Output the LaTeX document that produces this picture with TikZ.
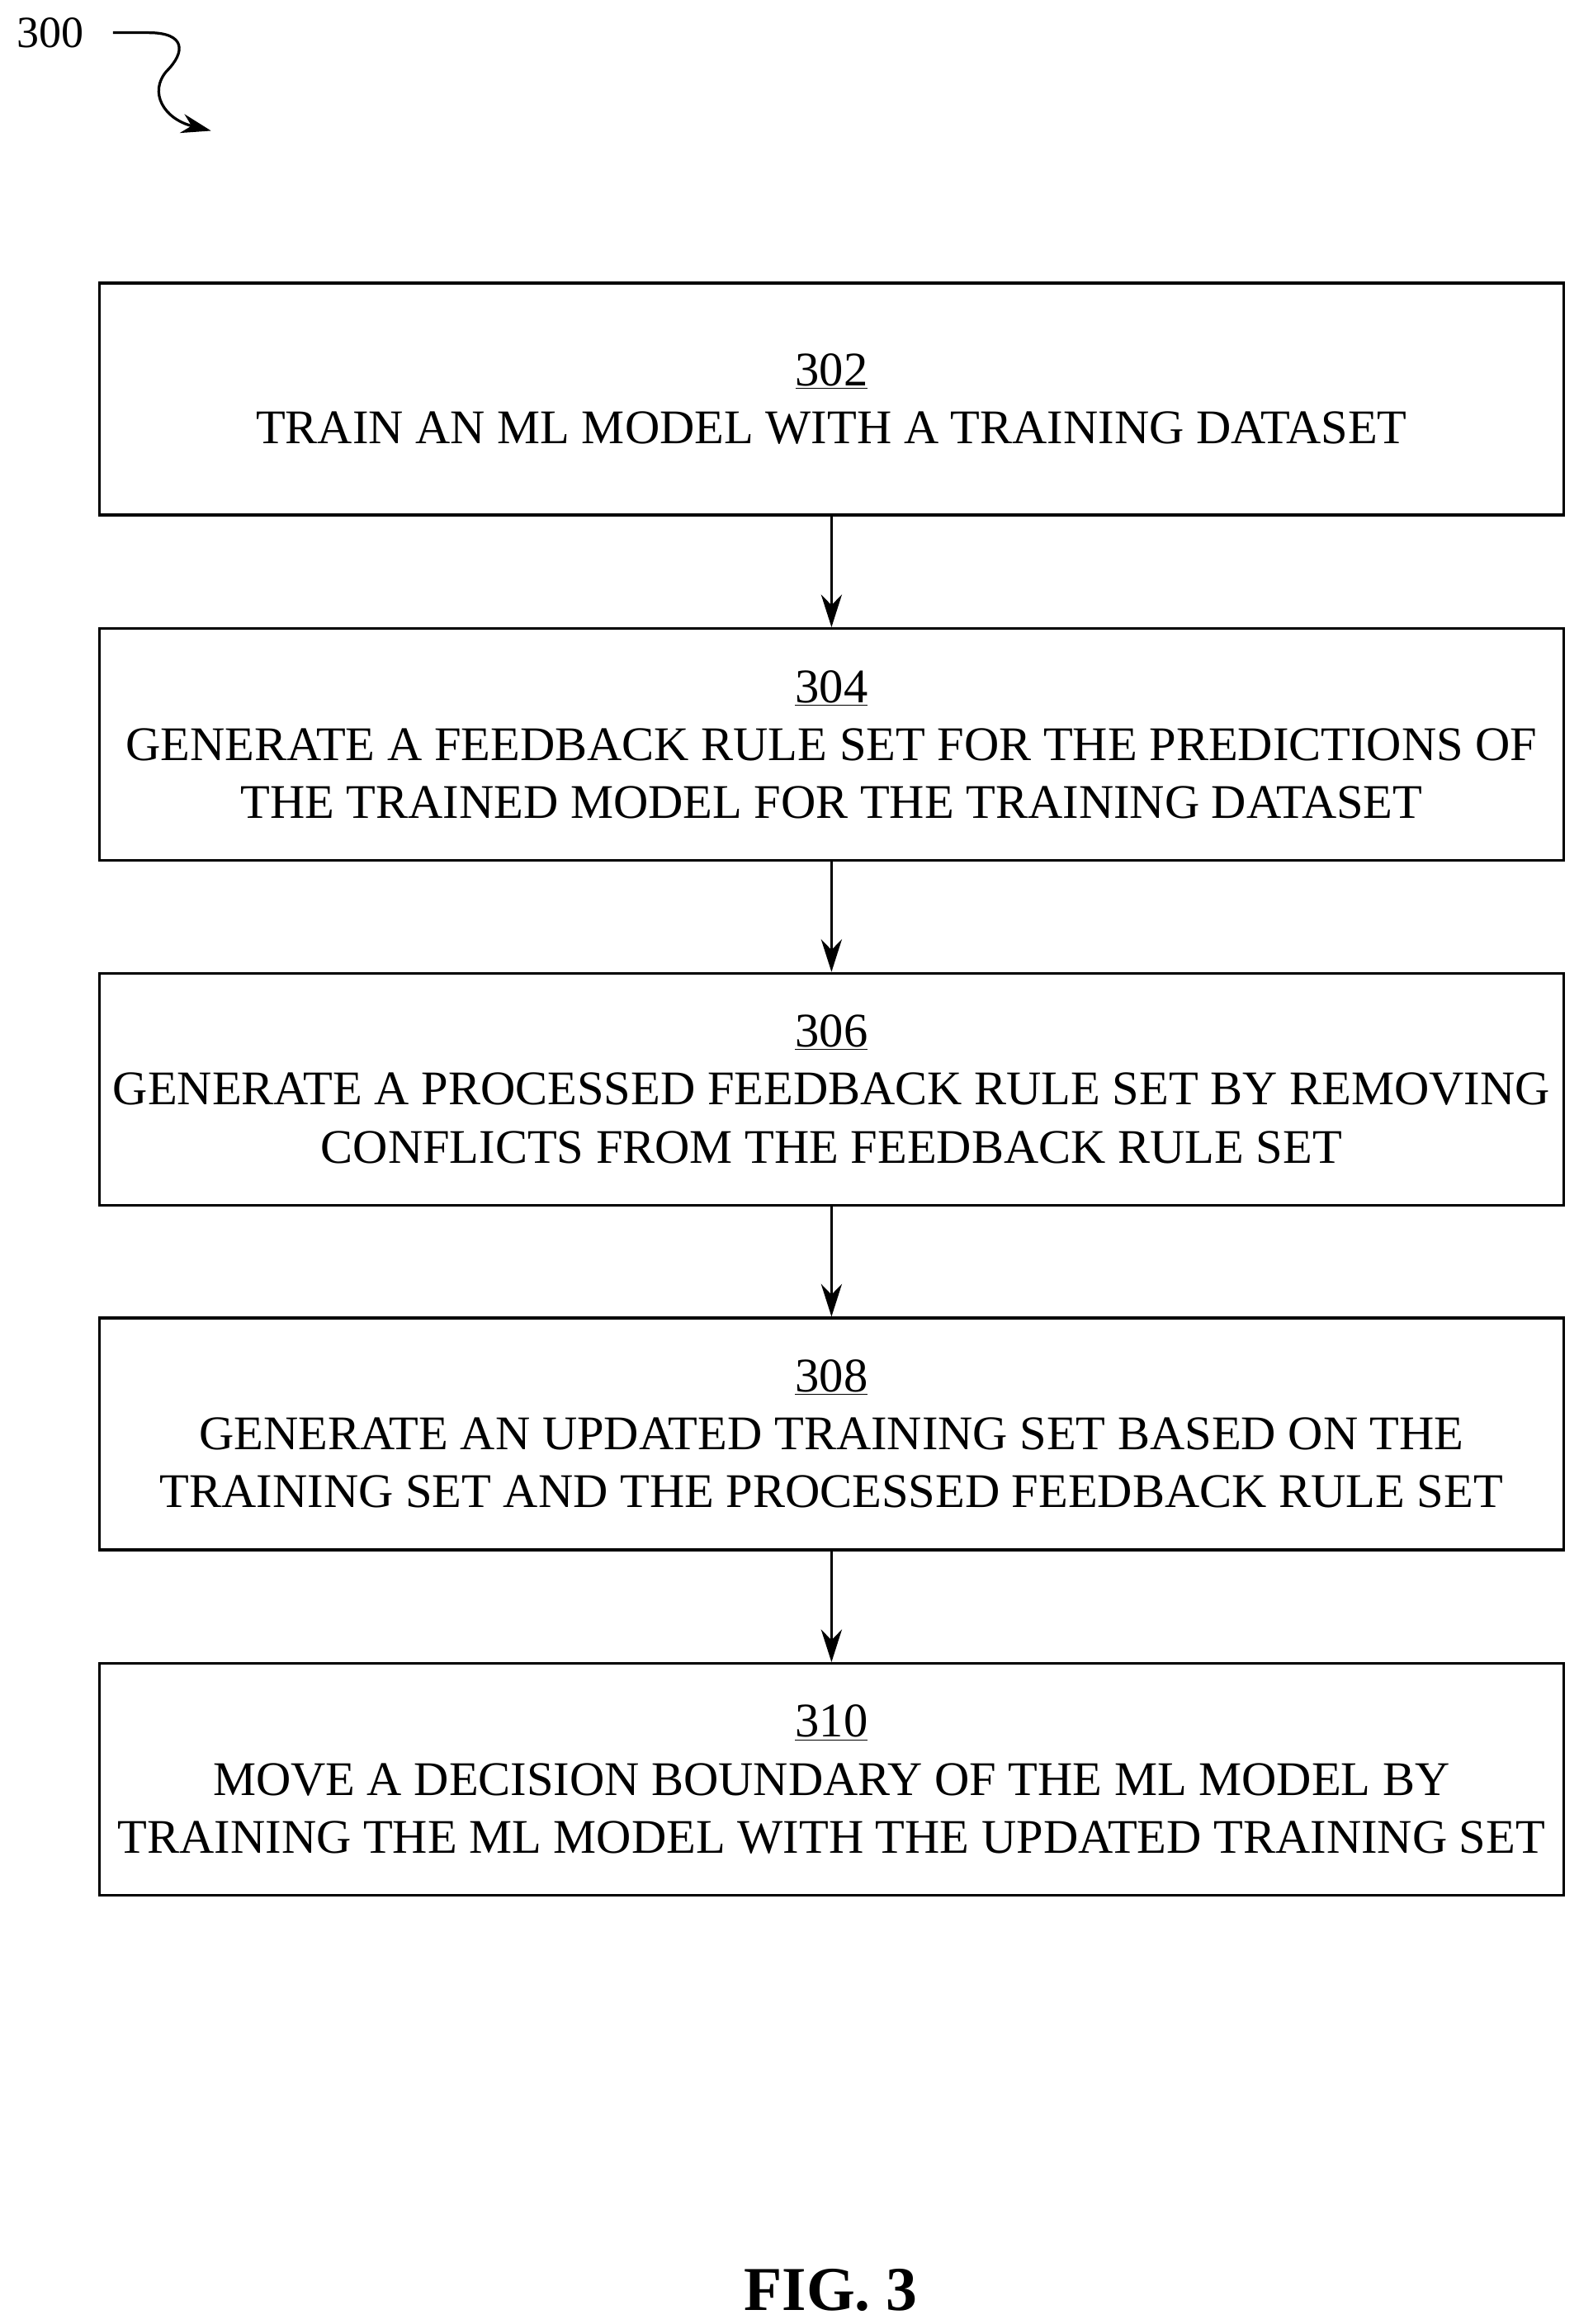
\documentclass[tikz,border=0pt]{standalone}
\usepackage{fontspec}
\setmainfont{Liberation Serif}
\usetikzlibrary{arrows.meta}
\begin{document}
\begin{tikzpicture}[x=1pt,y=-1pt,
  box/.style={draw,line width=1.8pt,minimum width=985pt,minimum height=156pt,align=center,font=\fontsize{32.5}{39}\selectfont,inner sep=0pt},
  arr/.style={-{Stealth[length=22pt,width=14pt]},line width=1.8pt}]
\useasboundingbox (0,0) rectangle (1062,1564);
\node[box] (b302) at (559.5,268.5) {\underline{302}\\TRAIN AN ML MODEL WITH A TRAINING DATASET};
\node[box] (b304) at (559.5,501) {\underline{304}\\GENERATE A FEEDBACK RULE SET FOR THE PREDICTIONS OF\\THE TRAINED MODEL FOR THE TRAINING DATASET};
\node[box] (b306) at (559.5,733) {\underline{306}\\GENERATE A PROCESSED FEEDBACK RULE SET BY REMOVING\\CONFLICTS FROM THE FEEDBACK RULE SET};
\node[box] (b308) at (559.5,965) {\underline{308}\\GENERATE AN UPDATED TRAINING SET BASED ON THE\\TRAINING SET AND THE PROCESSED FEEDBACK RULE SET};
\node[box] (b310) at (559.5,1197.5) {\underline{310}\\MOVE A DECISION BOUNDARY OF THE ML MODEL BY\\TRAINING THE ML MODEL WITH THE UPDATED TRAINING SET};
\draw[arr] (b302) -- (b304);
\draw[arr] (b304) -- (b306);
\draw[arr] (b306) -- (b308);
\draw[arr] (b308) -- (b310);
\node[font=\fontsize{30}{34}\selectfont] (n300) at (34,22) {300};
\coordinate (t300) at (142,88);
\draw[line width=1.8pt,-{Stealth[length=20pt,width=13pt]}] (76,22) -- (100,22) .. controls (125,22) and (125,35) .. (112,48) .. controls (100,62) and (110,80) .. (t300);
\node[font=\bfseries\fontsize{42}{48}\selectfont] (fig) at (559,1541) {FIG. 3};
\end{tikzpicture}
\end{document}
